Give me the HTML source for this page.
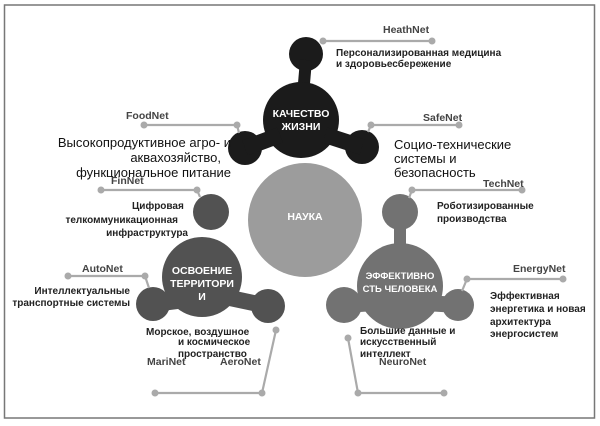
<!DOCTYPE html>
<html><head><meta charset="utf-8"><style>
html,body{margin:0;padding:0;background:#fff;}
svg{display:block;}
text{font-family:"Liberation Sans",sans-serif;}
.l{font-size:10.5px;font-weight:bold;fill:#444;}
.d{font-size:10px;font-weight:bold;fill:#222;}
.b{font-size:13px;fill:#111;}
.w{font-size:10.5px;font-weight:bold;fill:#fff;}
.c{stroke:#aaa;stroke-width:2.2;fill:none;}
.dot{fill:#aaa;}
</style></head><body>
<svg width="600" height="426" viewBox="0 0 600 426" xmlns="http://www.w3.org/2000/svg">
<rect x="4.5" y="5" width="590" height="413" fill="#fff" stroke="#777" stroke-width="1.5"/>
<circle cx="305" cy="220" r="57" fill="#9c9c9c"/>
<text x="305" y="220" class="w" text-anchor="middle">НАУКА</text>
<g fill="#1b1b1b" stroke="#1b1b1b">
<circle cx="306" cy="54" r="17" stroke="none"/>
<line x1="306" y1="60" x2="303" y2="95" stroke-width="12"/>
<circle cx="301" cy="120" r="38" stroke="none"/>
<circle cx="245" cy="148" r="17" stroke="none"/>
<circle cx="362" cy="147" r="17" stroke="none"/>
<line x1="245" y1="148" x2="280" y2="135" stroke-width="16"/>
<line x1="362" y1="147" x2="325" y2="135" stroke-width="16"/>
</g>
<text x="301" y="117" class="w" text-anchor="middle">КАЧЕСТВО</text>
<text x="301" y="130" class="w" text-anchor="middle">ЖИЗНИ</text>
<g fill="#525252" stroke="#525252">
<circle cx="211" cy="212" r="18" stroke="none"/>
<circle cx="202" cy="277" r="40" stroke="none"/>
<circle cx="153" cy="304" r="17" stroke="none"/>
<circle cx="268" cy="306" r="17" stroke="none"/>
<line x1="153" y1="304" x2="185" y2="300" stroke-width="16"/>
<line x1="268" y1="306" x2="230" y2="298" stroke-width="16"/>
</g>
<text x="202" y="274" class="w" text-anchor="middle">ОСВОЕНИЕ</text>
<text x="202" y="287" class="w" text-anchor="middle">ТЕРРИТОРИ</text>
<text x="202" y="300" class="w" text-anchor="middle">И</text>
<g fill="#727272" stroke="#727272">
<circle cx="400" cy="212" r="18" stroke="none"/>
<line x1="400" y1="220" x2="400" y2="250" stroke-width="12"/>
<circle cx="400" cy="286" r="43" stroke="none"/>
<circle cx="344" cy="305" r="18" stroke="none"/>
<circle cx="458" cy="305" r="16" stroke="none"/>
<line x1="344" y1="305" x2="375" y2="303" stroke-width="16"/>
<line x1="458" y1="305" x2="425" y2="303" stroke-width="16"/>
</g>
<text x="400" y="279" class="w" text-anchor="middle" style="font-size:9.5px">ЭФФЕКТИВНО</text>
<text x="400" y="292" class="w" text-anchor="middle" style="font-size:9.5px">СТЬ ЧЕЛОВЕКА</text>
<polyline class="c" points="323,41 432,41"/><circle class="dot" cx="323" cy="41" r="3.5"/><circle class="dot" cx="432" cy="41" r="3.5"/>
<polyline class="c" points="144,125 237,125 239,133"/><circle class="dot" cx="144" cy="125" r="3.5"/><circle class="dot" cx="237" cy="125" r="3.5"/>
<polyline class="c" points="459,125 371,125 368,132"/><circle class="dot" cx="459" cy="125" r="3.5"/><circle class="dot" cx="371" cy="125" r="3.5"/>
<polyline class="c" points="101,190 197,190 200,197"/><circle class="dot" cx="101" cy="190" r="3.5"/><circle class="dot" cx="197" cy="190" r="3.5"/>
<polyline class="c" points="522,190 412,190 409,198"/><circle class="dot" cx="522" cy="190" r="3.5"/><circle class="dot" cx="412" cy="190" r="3.5"/>
<polyline class="c" points="68,276 145,276 149,288"/><circle class="dot" cx="68" cy="276" r="3.5"/><circle class="dot" cx="145" cy="276" r="3.5"/>
<polyline class="c" points="563,279 467,279 462,291"/><circle class="dot" cx="563" cy="279" r="3.5"/><circle class="dot" cx="467" cy="279" r="3.5"/>
<polyline class="c" points="276,330 262,393 155,393"/><circle class="dot" cx="276" cy="330" r="3.5"/><circle class="dot" cx="262" cy="393" r="3.5"/><circle class="dot" cx="155" cy="393" r="3.5"/>
<polyline class="c" points="348,338 358,393 444,393"/><circle class="dot" cx="348" cy="338" r="3.5"/><circle class="dot" cx="358" cy="393" r="3.5"/><circle class="dot" cx="444" cy="393" r="3.5"/>
<text x="383" y="33" class="l">HeathNet</text>
<text x="336" y="56" class="d">Персонализированная медицина</text>
<text x="336" y="67" class="d">и здоровьесбережение</text>
<text x="126" y="119" class="l">FoodNet</text>
<text x="231" y="147" class="b" text-anchor="end">Высокопродуктивное агро- и</text>
<text x="221" y="162" class="b" text-anchor="end">аквахозяйство,</text>
<text x="231" y="177" class="b" text-anchor="end">функциональное питание</text>
<text x="423" y="121" class="l">SafeNet</text>
<text x="394" y="149" class="b">Социо-технические</text>
<text x="394" y="163" class="b">системы и</text>
<text x="394" y="177" class="b">безопасность</text>
<text x="111" y="184" class="l">FinNet</text>
<text x="132" y="209" class="d">Цифровая</text>
<text x="178" y="223" class="d" text-anchor="end">телкоммуникационная</text>
<text x="188" y="236" class="d" text-anchor="end">инфраструктура</text>
<text x="483" y="187" class="l">TechNet</text>
<text x="437" y="209" class="d">Роботизированные</text>
<text x="437" y="222" class="d">производства</text>
<text x="82" y="272" class="l">AutoNet</text>
<text x="130" y="294" class="d" text-anchor="end">Интеллектуальные</text>
<text x="130" y="306" class="d" text-anchor="end">транспортные системы</text>
<text x="513" y="272" class="l">EnergyNet</text>
<text x="490" y="299" class="d">Эффективная</text>
<text x="490" y="312" class="d">энергетика и новая</text>
<text x="490" y="325" class="d">архитектура</text>
<text x="490" y="337" class="d">энергосистем</text>
<text x="146" y="335" class="d">Морское, воздушное</text>
<text x="178" y="345" class="d">и космическое</text>
<text x="178" y="357" class="d">пространство</text>
<text x="147" y="365" class="l">MariNet</text>
<text x="220" y="365" class="l">AeroNet</text>
<text x="360" y="334" class="d">Большие данные и</text>
<text x="360" y="345" class="d">искусственный</text>
<text x="360" y="357" class="d">интеллект</text>
<text x="379" y="365" class="l">NeuroNet</text>
</svg>
</body></html>
